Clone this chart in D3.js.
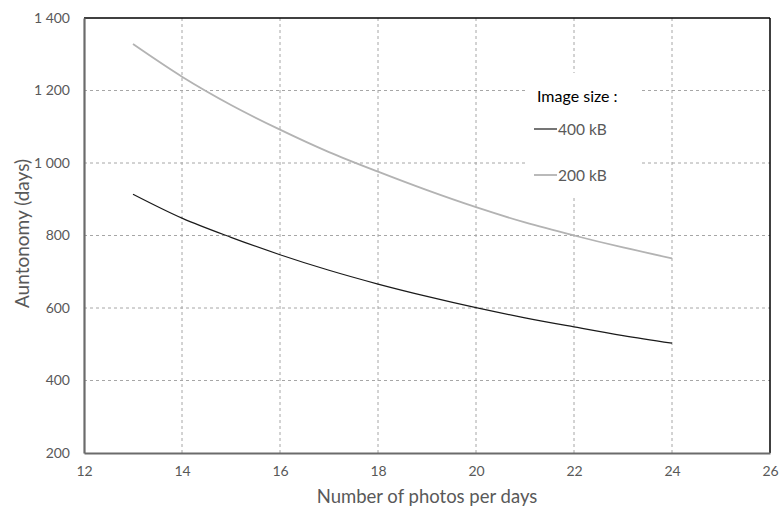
<!DOCTYPE html>
<html>
<head>
<meta charset="utf-8">
<style>
    body { margin: 0; background: #fff; }
    #chart { width: 779px; height: 510px; }
    text { font-family: Lato, "Open Sans", sans-serif; }
</style>
</head>
<body>
<div id="chart"></div>
<script src="https://cdn.jsdelivr.net/npm/d3@7"></script>
<script>
const photos = [13, 14, 15, 16, 17, 18, 19, 20, 21, 22, 23, 24];
const days400 = [914, 848, 795, 747, 704, 666, 632, 601, 573, 548, 524, 503];
const days200 = [1328, 1238, 1160, 1092, 1030, 976, 925, 878, 836, 800, 767, 737];
const xTicks = [12, 14, 16, 18, 20, 22, 24, 26];
const yTicks = [200, 400, 600, 800, 1000, 1200, 1400];
const seriesNames = ['400 kB', '200 kB'];

const width = 779, height = 510;
const margin = { top: 18, right: 9, bottom: 57, left: 84 };

const svg = d3.select('#chart').append('svg')
    .attr('width', width)
    .attr('height', height);

const x = d3.scaleLinear().domain([12, 26]).range([margin.left, width - margin.right]);
const y = d3.scaleLinear().domain([200, 1400]).range([height - margin.bottom, margin.top]);

const fmt = d3.formatLocale({ decimal: '.', thousands: ' ', grouping: [3], currency: ['', ''] }).format(',');

// grid
svg.append('g').selectAll('line').data(xTicks.slice(1, -1)).enter().append('line')
    .attr('x1', d => x(d)).attr('x2', d => x(d))
    .attr('y1', y(1400)).attr('y2', y(200))
    .attr('stroke', '#a6a6a6').attr('stroke-dasharray', '3,3');
svg.append('g').selectAll('line').data(yTicks.slice(1, -1)).enter().append('line')
    .attr('x1', x(12)).attr('x2', x(26))
    .attr('y1', d => y(d)).attr('y2', d => y(d))
    .attr('stroke', '#a6a6a6').attr('stroke-dasharray', '3,3');

// legend background covers the grid
const legend = svg.append('g').attr('transform', 'translate(528,73)');
legend.append('rect').attr('width', 113).attr('height', 124).attr('fill', '#fff');

// lines
const line = d3.line().x((d, i) => x(photos[i])).y(d => y(d)).curve(d3.curveMonotoneX);
svg.append('path').datum(days200).attr('d', line)
    .attr('fill', 'none').attr('stroke', '#b3b3b3').attr('stroke-width', 1.8);
svg.append('path').datum(days400).attr('d', line)
    .attr('fill', 'none').attr('stroke', '#1a1a1a').attr('stroke-width', 1.2);

// frame
svg.append('line').attr('x1', x(12)).attr('x2', x(26)).attr('y1', y(1400)).attr('y2', y(1400))
    .attr('stroke', '#000').attr('stroke-width', 1.5);
svg.append('line').attr('x1', x(26)).attr('x2', x(26)).attr('y1', y(1400)).attr('y2', y(200))
    .attr('stroke', '#000').attr('stroke-width', 1.5);

// axes
const xAxis = svg.append('g')
    .attr('transform', `translate(0,${y(200)})`)
    .call(d3.axisBottom(x).tickValues(xTicks).tickSize(0).tickPadding(13));
const yAxis = svg.append('g')
    .attr('transform', `translate(${x(12)},0)`)
    .call(d3.axisLeft(y).tickValues(yTicks).tickSize(0).tickPadding(14).tickFormat(fmt));
[xAxis, yAxis].forEach(a => {
    a.select('.domain').attr('stroke', '#6b6b6b').attr('stroke-width', 2.2);
    a.selectAll('text').attr('fill', '#595959').style('font-size', '14px')
        .style('font-family', 'Lato, "Open Sans", sans-serif');
});

// axis titles
svg.append('text')
    .attr('x', (x(12) + x(26)) / 2).attr('y', 503)
    .attr('text-anchor', 'middle')
    .attr('fill', '#595959').style('font-size', '18.5px')
    .text('Number of photos per days');
svg.append('text')
    .attr('transform', `translate(29,${(y(200) + y(1400)) / 2 - 2}) rotate(-90)`)
    .attr('text-anchor', 'middle')
    .attr('fill', '#595959').style('font-size', '19px')
    .text('Auntonomy (days)');

// legend content
legend.append('text').attr('x', 9).attr('y', 29)
    .attr('fill', '#000').style('font-size', '16px').text('Image size :');
const legColors = ['#1a1a1a', '#b3b3b3'];
const legWidths = [1.2, 1.8];
seriesNames.forEach((name, i) => {
    const ly = 56 + i * 46;
    legend.append('line').attr('x1', 6).attr('x2', 29).attr('y1', ly).attr('y2', ly)
        .attr('stroke', legColors[i]).attr('stroke-width', legWidths[i]);
    legend.append('text').attr('x', 30).attr('y', ly + 5.5)
        .attr('fill', '#595959').style('font-size', '15.5px').text(name);
});
</script>
</body>
</html>
